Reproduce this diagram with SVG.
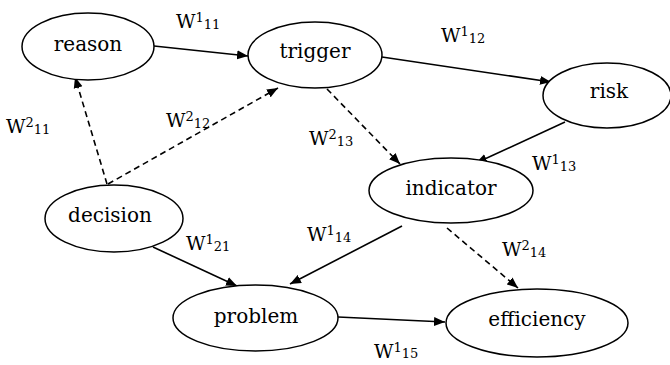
<svg xmlns="http://www.w3.org/2000/svg" width="670" height="365" viewBox="0 0 670 365">
<style>
.node ellipse{fill:#fff;stroke:#000;stroke-width:1.5}
.node text{font-family:"DejaVu Serif",serif;font-size:20px;fill:#000;text-anchor:middle}
.lbl{font-family:"DejaVu Serif",serif;font-size:19px;fill:#000}
.lbl tspan{font-size:13px}
.e{stroke:#000;stroke-width:1.6;fill:none;marker-end:url(#ah)}
.d{stroke-dasharray:6,4}
</style>
<defs>
<marker id="ah" markerUnits="userSpaceOnUse" markerWidth="12" markerHeight="10" refX="11" refY="5" orient="auto">
<path d="M0,0.5 L11,5 L0,9.5 z" fill="#000"/>
</marker>
</defs>
<rect width="670" height="365" fill="#fff"/>
<g id="connectors">
<line class="e" x1="154" y1="46" x2="248" y2="56"/>
<line class="e" x1="382" y1="57" x2="551" y2="82"/>
<line class="e" x1="565" y1="122" x2="476" y2="163"/>
<line class="e d" x1="327" y1="89" x2="400" y2="164"/>
<line class="e d" x1="107" y1="184" x2="75" y2="77"/>
<line class="e d" x1="108" y1="184" x2="278" y2="88"/>
<line class="e" x1="153" y1="247" x2="237" y2="286"/>
<line class="e" x1="402" y1="226" x2="290" y2="284"/>
<line class="e d" x1="447" y1="228" x2="518" y2="288"/>
<line class="e" x1="338" y1="317" x2="445" y2="322"/>
</g>
<g id="reason" class="node"><ellipse cx="88" cy="46.5" rx="66" ry="33.5"/><text x="88" y="51">reason</text></g>
<g id="trigger" class="node"><ellipse cx="315" cy="55" rx="67" ry="33"/><text x="315" y="58">trigger</text></g>
<g id="risk" class="node"><ellipse cx="607" cy="95.5" rx="64" ry="32.5"/><text x="609" y="98">risk</text></g>
<g id="indicator" class="node"><ellipse cx="451" cy="190.5" rx="82" ry="32.5"/><text x="451" y="195">indicator</text></g>
<g id="decision" class="node"><ellipse cx="114" cy="218.5" rx="69" ry="33.5"/><text x="110" y="222">decision</text></g>
<g id="problem" class="node"><ellipse cx="255.5" cy="318" rx="82.5" ry="33"/><text x="256" y="323">problem</text></g>
<g id="efficiency" class="node"><ellipse cx="537" cy="323" rx="91" ry="34"/><text x="537" y="326">efficiency</text></g>
<g id="labels">
<text class="lbl" x="176" y="28">W<tspan dy="-6">1</tspan><tspan dy="7">11</tspan></text>
<text class="lbl" x="441" y="42">W<tspan dy="-6">1</tspan><tspan dy="7">12</tspan></text>
<text class="lbl" x="6" y="133">W<tspan dy="-6">2</tspan><tspan dy="7">11</tspan></text>
<text class="lbl" x="166" y="127">W<tspan dy="-6">2</tspan><tspan dy="7">12</tspan></text>
<text class="lbl" x="309" y="145">W<tspan dy="-6">2</tspan><tspan dy="7">13</tspan></text>
<text class="lbl" x="532" y="170">W<tspan dy="-6">1</tspan><tspan dy="7">13</tspan></text>
<text class="lbl" x="186" y="250">W<tspan dy="-6">1</tspan><tspan dy="7">21</tspan></text>
<text class="lbl" x="307" y="241">W<tspan dy="-6">1</tspan><tspan dy="7">14</tspan></text>
<text class="lbl" x="502" y="256">W<tspan dy="-6">2</tspan><tspan dy="7">14</tspan></text>
<text class="lbl" x="374" y="358">W<tspan dy="-6">1</tspan><tspan dy="6">15</tspan></text>
</g>
</svg>
